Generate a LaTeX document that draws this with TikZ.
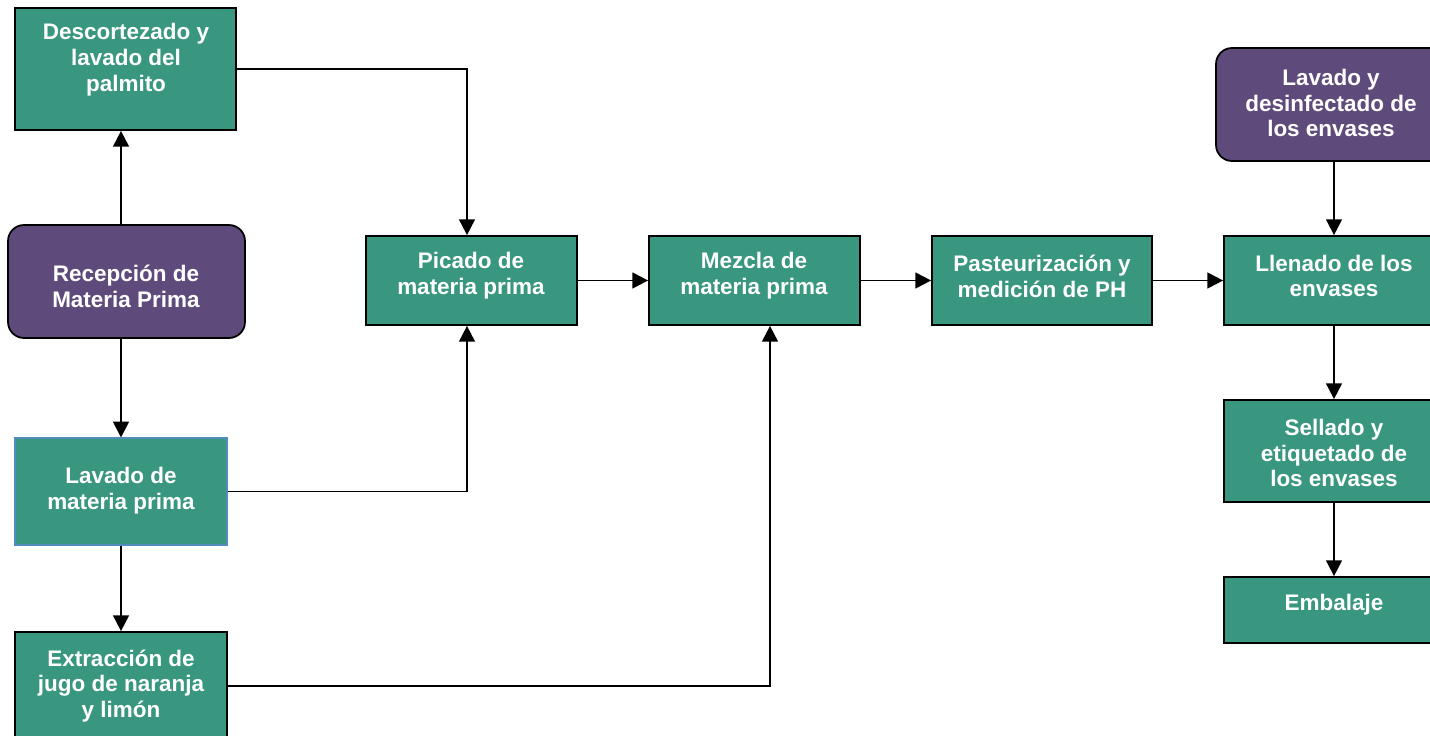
\documentclass[tikz,border=0pt]{standalone}
\usepackage{fontspec}
\setmainfont{Liberation Sans}
\usetikzlibrary{arrows.meta}
\definecolor{procgreen}{RGB}{56,151,126}
\definecolor{startpurple}{RGB}{95,75,123}
\definecolor{thinblue}{RGB}{80,140,190}
\begin{document}
\begin{tikzpicture}[x=0.02cm,y=-0.02cm,
	procbox/.style={draw=black, line width=1pt, fill=procgreen, inner sep=0pt},
	startbox/.style={draw=black, line width=1pt, fill=startpurple, rounded corners=0.32cm, inner sep=0pt},
	boxtext/.style={text=white, align=center, inner sep=0pt, yshift=-0.06cm, font=\bfseries\fontsize{12.8}{14.7}\selectfont},
	arr/.style={line width=1.1pt, -{Triangle[length=9pt,width=9pt]}}]

	\useasboundingbox (0,0) rectangle (1430,736);

	% boxes
	\node[procbox, minimum width=4.42cm, minimum height=2.44cm] (descort) at (125.5,69) {};
	\node[startbox, minimum width=4.74cm, minimum height=2.26cm] (recep) at (126.5,281.5) {};
	\node[procbox, draw=thinblue, line width=0.6pt, minimum width=4.24cm, minimum height=2.14cm] (lavmp) at (121,491.5) {};
	\node[procbox, minimum width=4.24cm, minimum height=2.16cm] (extrac) at (121,686) {};
	\node[procbox, minimum width=4.22cm, minimum height=1.78cm] (picado) at (471.5,280.5) {};
	\node[procbox, minimum width=4.22cm, minimum height=1.78cm] (mezcla) at (754.5,280.5) {};
	\node[procbox, minimum width=4.40cm, minimum height=1.78cm] (pasteur) at (1042,280.5) {};
	\node[procbox, minimum width=4.40cm, minimum height=1.78cm] (llenado) at (1334,280.5) {};
	\node[startbox, minimum width=4.72cm, minimum height=2.26cm] (lavenv) at (1334,104.5) {};
	\node[procbox, minimum width=4.40cm, minimum height=2.04cm] (sellado) at (1334,451) {};
	\node[procbox, minimum width=4.40cm, minimum height=1.32cm] (embalaje) at (1334,610) {};

	% texts
	\node[boxtext] (descorttxt) at (126,57) {Descortezado y\\lavado del\\palmito};
	\node[boxtext] (receptxt) at (126,283) {Recepción de\\Materia Prima};
	\node[boxtext] (lavmptxt) at (121,488) {Lavado de\\materia prima};
	\node[boxtext] (extractxt) at (121,683) {Extracción de\\jugo de naranja\\y limón};
	\node[boxtext] (picadotxt) at (471,273) {Picado de\\materia prima};
	\node[boxtext] (mezclatxt) at (754,273) {Mezcla de\\materia prima};
	\node[boxtext] (pasteurtxt) at (1042,273) {Pasteurización y\\medición de PH};
	\node[boxtext] (llenadotxt) at (1334,273) {Llenado de los\\envases};
	\node[boxtext] (lavenvtxt) at (1331,100) {Lavado y\\desinfectado de\\los envases};
	\node[boxtext] (selladotxt) at (1334,450) {Sellado y\\etiquetado de\\los envases};
	\node[boxtext] (embalajetxt) at (1334,602) {Embalaje};

	% connectors
	\draw[arr] (recep.north -| lavmp.north) -- (descort.south -| lavmp.north);
	\draw[arr] (recep.south -| lavmp.north) -- (lavmp.north);
	\draw[arr] (lavmp) -- (extrac);
	\draw[arr] (descort.east) -| ([xshift=-0.09cm]picado.north);
	\draw[arr] (lavmp.east) -| ([xshift=-0.09cm]picado.south);
	\draw[arr] (extrac.east) -| ([xshift=0.31cm]mezcla.south);
	\draw[arr] (picado) -- (mezcla);
	\draw[arr] (mezcla) -- (pasteur);
	\draw[arr] (pasteur) -- (llenado);
	\draw[arr] (lavenv) -- (llenado);
	\draw[arr] (llenado) -- (sellado);
	\draw[arr] (sellado) -- (embalaje);

\end{tikzpicture}
\end{document}
